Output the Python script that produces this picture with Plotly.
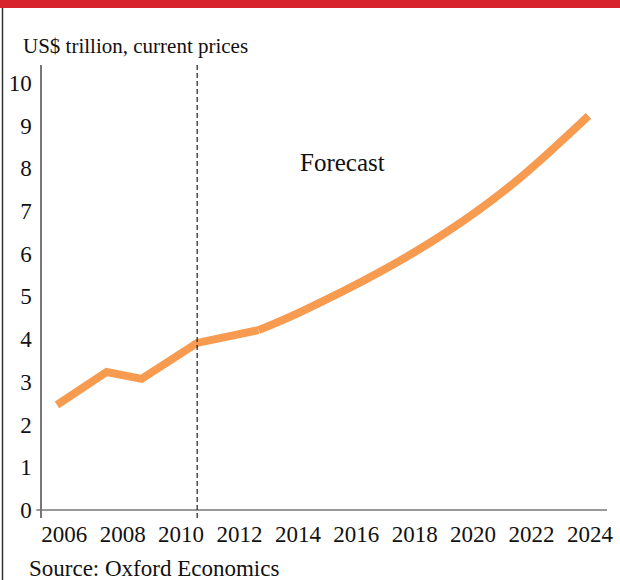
import plotly.graph_objects as go

# Data
hist_years = [2005.75, 2007.45, 2008.65, 2010.55, 2012.65]
hist_values = [2.46, 3.23, 3.07, 3.91, 4.21]
fc_years = [2012.65, 2014.1, 2016.8, 2019.1, 2021.4, 2023.95]
fc_values = [4.21, 4.64, 5.57, 6.51, 7.66, 9.23]
forecast_start = 2010.55
x_ticks = [2006, 2008, 2010, 2012, 2014, 2016, 2018, 2020, 2022, 2024]
y_ticks = list(range(0, 11))

FONT = "Liberation Serif"
ORANGE = "#f79b51"
fig = go.Figure()
fig.add_trace(go.Scatter(x=hist_years, y=hist_values, mode="lines",
                         line=dict(color=ORANGE, width=8),
                         hoverinfo="skip", showlegend=False))
fig.add_trace(go.Scatter(x=fc_years, y=fc_values, mode="lines",
                         line=dict(color=ORANGE, width=8, shape="spline",
                                   smoothing=1.0),
                         hoverinfo="skip", showlegend=False))

fig.update_layout(
    width=620, height=580,
    margin=dict(l=42, r=13, t=65, b=62, autoexpand=False),
    paper_bgcolor="white", plot_bgcolor="white",
    font=dict(family=FONT, color="#111", size=23),
    xaxis=dict(range=[2005.236, 2024.585], tickvals=x_ticks,
               ticktext=[str(t) for t in x_ticks], showgrid=False,
               zeroline=False, showline=False, ticks="", automargin=False,
               tickfont=dict(size=23), ticklabelstandoff=0),
    yaxis=dict(range=[-0.19, 10.42], tickvals=y_ticks, showgrid=False,
               zeroline=False, showline=True, linecolor="#777", linewidth=1.5,
               ticks="", automargin=False, tickfont=dict(size=23),
               ticklabelstandoff=4),
    shapes=[
        dict(type="line", xref="paper", yref="y", x0=-0.01, x1=1, y0=0, y1=0,
             line=dict(color="#777", width=1.5)),
        dict(type="line", xref="x", yref="paper", x0=forecast_start, x1=forecast_start,
             y0=0, y1=1, line=dict(color="#222", width=1.2, dash="5px,3px")),
        dict(type="rect", xref="paper", yref="paper", x0=-0.08, x1=1.03,
             y0=1.1258, y1=1.16, fillcolor="#d7232b", line=dict(width=0), layer="above"),
        dict(type="line", xref="paper", yref="paper", x0=-0.0699, x1=-0.0699,
             y0=-0.14, y1=1.1258, line=dict(color="#333", width=1.5)),
    ],
    annotations=[
        dict(text="US$ trillion, current prices", xref="paper", yref="paper",
             x=-0.037, y=1.042, xanchor="left", yanchor="middle",
             showarrow=False, font=dict(size=21)),
        dict(text="Forecast", xref="x", yref="y", x=2015.54, y=8.13,
             xanchor="center", yanchor="middle", showarrow=False,
             font=dict(size=25)),
        dict(text="Source: Oxford Economics", xref="paper", yref="paper",
             x=-0.026, y=-0.1115, xanchor="left", yanchor="middle",
             showarrow=False, font=dict(size=23)),
    ],
)

fig.write_html("out.html", config={"displayModeBar": False},
               post_script="document.body.style.margin='0px';")
